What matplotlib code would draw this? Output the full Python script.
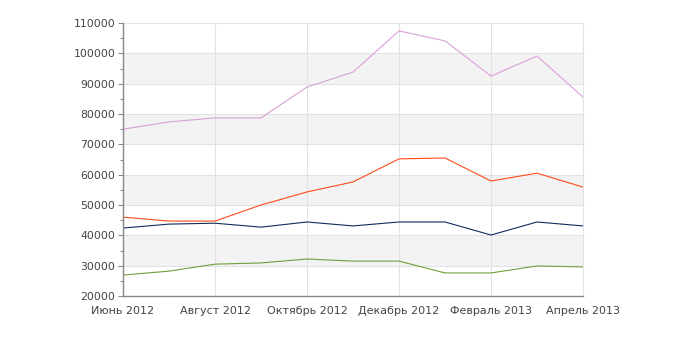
import matplotlib.pyplot as plt
from matplotlib.ticker import MultipleLocator

months = ['Июнь 2012', 'Июль 2012', 'Август 2012', 'Сентябрь 2012', 'Октябрь 2012',
          'Ноябрь 2012', 'Декабрь 2012', 'Январь 2013', 'Февраль 2013', 'Март 2013',
          'Апрель 2013']

series_pink = [75000, 77400, 78700, 78700, 88900, 93800, 107400, 104100, 92500, 99100, 85600]
series_red = [46000, 44700, 44700, 50000, 54300, 57600, 65200, 65500, 57900, 60500, 55900]
series_navy = [42400, 43700, 44000, 42700, 44400, 43100, 44400, 44400, 40100, 44400, 43100]
series_green = [26900, 28200, 30500, 30900, 32200, 31500, 31500, 27600, 27600, 29900, 29600]

y_min, y_max = 20000, 110000

fig = plt.figure(figsize=(6.9, 3.62), dpi=100)
ax = fig.add_axes([123 / 690, 66 / 362, 460 / 690, 273 / 362])

x = list(range(len(months)))

# alternating bands
for lo in range(30000, y_max, 20000):
    ax.axhspan(lo, lo + 10000, color='#f3f3f3', zorder=0, lw=0)
for v in range(y_min, y_max + 1, 10000):
    ax.axhline(v, color='#e2e2e2', lw=0.75, zorder=1, clip_on=False)
for i in x[::2]:
    ax.axvline(i, color='#e2e2e2', lw=0.75, zorder=1, clip_on=False)

ax.plot(x, series_pink, color='#d9a0d9', lw=0.8, zorder=3)
ax.plot(x, series_red, color='#ff4c1a', lw=0.8, zorder=3)
ax.plot(x, series_navy, color='#0f2d5c', lw=0.8, zorder=3)
ax.plot(x, series_green, color='#6fa03c', lw=0.8, zorder=3)

ax.set_xlim(0, len(months) - 1)
ax.set_ylim(y_min, y_max)
ax.set_xticks(x[::2])
ax.set_xticklabels(months[::2])
ax.yaxis.set_major_locator(MultipleLocator(10000))
ax.yaxis.set_minor_locator(MultipleLocator(5000))

ax.tick_params(axis='x', length=0, pad=7, labelsize=8, labelcolor='#444444')
ax.tick_params(axis='y', which='major', length=3.6, width=0.75, color='#888888',
               labelsize=7.8, labelcolor='#444444', pad=2)
ax.tick_params(axis='y', which='minor', length=2.2, width=0.75, color='#888888')

for s in ['top', 'right']:
    ax.spines[s].set_visible(False)
for s in ['left', 'bottom']:
    ax.spines[s].set_color('#888888')
    ax.spines[s].set_linewidth(1)
    ax.spines[s].set_zorder(4)

fig.savefig('out.png', dpi=100)
